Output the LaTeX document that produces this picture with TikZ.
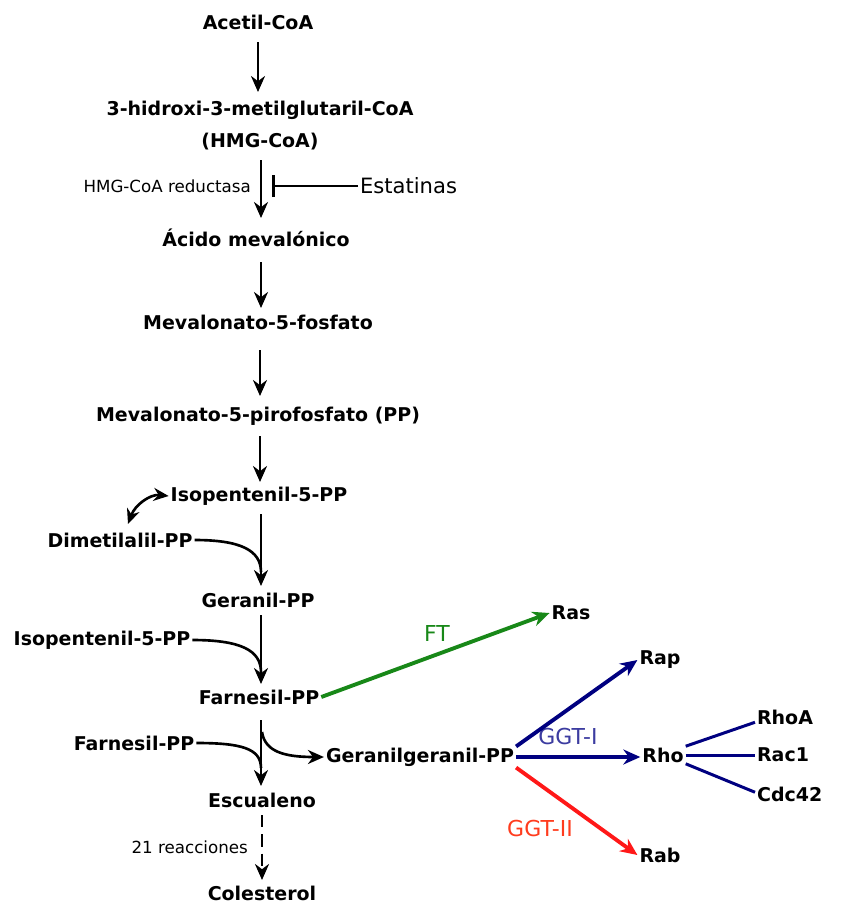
\documentclass[tikz,border=0pt]{standalone}
\usepackage{fontspec}
\setmainfont{DejaVu Sans}
\usetikzlibrary{positioning, arrows.meta}
\definecolor{ftgreen}{RGB}{24,136,24}
\definecolor{ggtblue}{RGB}{0,0,128}
\definecolor{ggtiblue}{RGB}{60,60,160}
\definecolor{ggtred}{RGB}{255,24,24}
\definecolor{ggtiired}{RGB}{255,60,30}

\begin{document}
\begin{tikzpicture}[x = 0.02cm, y = -0.02cm,
    mol/.style = { font = \bfseries\fontsize{10.8}{12}\selectfont, inner sep = 1pt },
    enz/.style = { font = \fontsize{9.5}{11}\selectfont, inner sep = 1pt },
    lab/.style = { font = \fontsize{12.5}{14}\selectfont, inner sep = 1pt },
    conv/.style = { line width = 1.5pt, -{Stealth[length = 3.2mm, width = 2.8mm]} },
    merge/.style = { line width = 1.5pt },
    prenyl/.style = { line width = 2.2pt, -{Stealth[length = 3.4mm, width = 3mm]} }]
    \useasboundingbox (0,0) rectangle (852,904);

    % main pathway
    \node [mol] (acetil) at (258,22) { Acetil-CoA };
    \node [mol] (hmg) at (260,110) { 3-hidroxi-3-metilglutaril-CoA };
    \node [mol] (hmgabbr) at (260,142) { (HMG-CoA) };
    \node [mol] (mevac) at (256,238) { Ácido mevalónico };
    \node [mol] (mevp) at (258,322) { Mevalonato-5-fosfato };
    \node [mol] (mevpp) at (258,416) { Mevalonato-5-pirofosfato (PP) };
    \node [mol] (ipp) at (259,496) { Isopentenil-5-PP };
    \node [mol] (dmapp) at (120,540) { Dimetilalil-PP };
    \node [mol] (gpp) at (258,600) { Geranil-PP };
    \node [mol] (ippb) at (102,640) { Isopentenil-5-PP };
    \node [mol] (fpp) at (259,697) { Farnesil-PP };
    \node [mol] (fppb) at (134,743) { Farnesil-PP };
    \node [mol] (ggpp) at (420,757) { Geranilgeranil-PP };
    \node [mol] (esc) at (262,800) { Escualeno };
    \node [mol] (col) at (262,893) { Colesterol };

    \node [enz, anchor = east] (reduct) at (253,186) { HMG-CoA reductasa };
    \node [enz, anchor = east] (reac) at (250,847) { 21 reacciones };
    \node [font = \fontsize{12}{14}\selectfont, inner sep = 1pt, anchor = west] (estat) at (358,186) { Estatinas };

    % prenylated proteins
    \node [mol] (ras) at (571,613) { Ras };
    \node [mol] (rap) at (660,660) { Rap };
    \node [mol] (rho) at (663,755) { Rho };
    \node [mol] (rab) at (660,855) { Rab };
    \node [mol, anchor = west] (rhoa) at (755,717) { RhoA };
    \node [mol, anchor = west] (rac) at (755,755) { Rac1 };
    \node [mol, anchor = west] (cdc) at (755,794) { Cdc42 };

    \node [lab, text = ftgreen] (ft) at (437,633) { FT };
    \node [lab, text = ggtiblue] (ggti) at (568,736) { GGT-I };
    \node [lab, text = ggtiired] (ggtii) at (540,828) { GGT-II };

    \coordinate (mgpp) at (261,572);
    \coordinate (mfpp) at (261,672);
    \coordinate (mesc) at (261,768);
    \coordinate (sggpp) at (262,732);
    \coordinate (bar) at (272,186);

    % steps
    \draw [conv] (258,42) -- (258,92);
    \draw [conv] (261,160) -- (261,218);
    \draw [conv] (261,262) -- (261,308);
    \draw [conv] (260,350) -- (260,396);
    \draw [conv] (260,436) -- (260,482);
    \draw [conv] (261,514) -- (261,586);
    \draw [conv] (261,615) -- (261,684);
    \draw [conv] (261,720) -- (261,786);
    \draw [conv, dashed, dash pattern = on 7pt off 4pt] (262,815) -- (262,880);

    \draw [line width = 1.5pt, -{Bar[width = 4.4mm]}] (estat.west) -- (bar);
    \draw [line width = 1.5pt, {Stealth[length = 3mm, width = 2.6mm]}-{Stealth[length = 3mm, width = 2.6mm]}]
      (128,524) .. controls (135,505) and (150,494) .. (ipp.west);
    \draw [merge] (dmapp.east) .. controls (240,540) and (261,550) .. (mgpp);
    \draw [merge] (ippb.east) .. controls (240,640) and (261,650) .. (mfpp);
    \draw [merge] (fppb.east) .. controls (240,743) and (261,748) .. (mesc);
    \draw [conv] (sggpp) .. controls (265,752) and (285,757) .. (ggpp.west);

    \draw [prenyl, ftgreen] (fpp.east) -- (ras.west);
    \draw [prenyl, ggtblue] ([yshift = 6pt] ggpp.east) -- (rap.west);
    \draw [prenyl, ggtblue] (ggpp.east) -- (ggpp.east -| rho.west);
    \draw [prenyl, ggtred] ([yshift = -6pt] ggpp.east) -- (rab.west);

    \draw [ggtblue, line width = 1.7pt] ([yshift = 5pt] rho.east) -- ([yshift = -3pt] rhoa.west);
    \draw [ggtblue, line width = 1.7pt] (rho.east) -- (rac.west);
    \draw [ggtblue, line width = 1.7pt] ([yshift = -5pt] rho.east) -- ([yshift = 1pt] cdc.west);
\end{tikzpicture}
\end{document}
